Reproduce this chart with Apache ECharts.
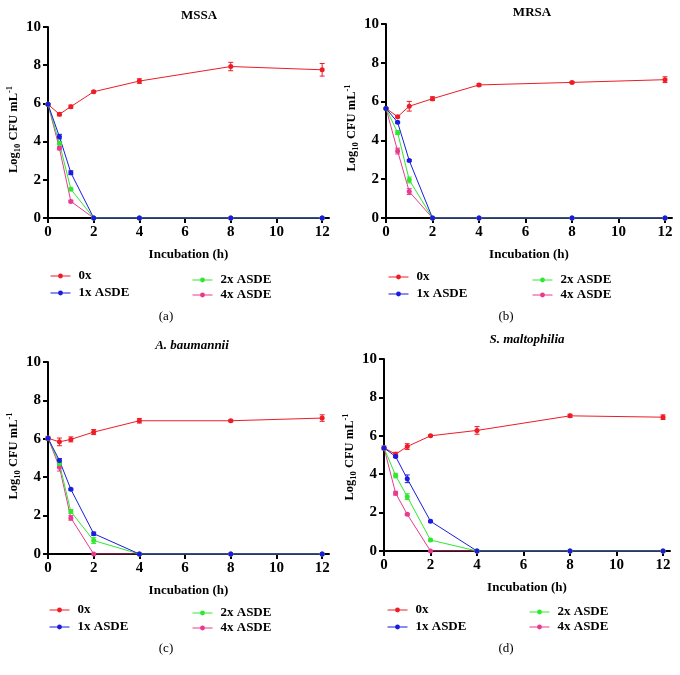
<!DOCTYPE html>
<html>
<head>
<meta charset="utf-8">
<script src="https://cdn.jsdelivr.net/npm/echarts@6/dist/echarts.min.js"></script>
<style>
  html, body { margin: 0; padding: 0; background: #fff; }
  #chart { width: 680px; height: 675px; }
</style>
</head>
<body>
<div id="chart"></div>
<script>
// ---------- data ----------
const hours = [0, 0.5, 1, 2, 4, 8, 12];
const xTicks = [0, 2, 4, 6, 8, 10, 12];
const yTicks = [0, 2, 4, 6, 8, 10];
const seriesNames = ['0x', '1x ASDE', '2x ASDE', '4x ASDE'];
const panelTitles = ['MSSA', 'MRSA', 'A. baumannii', 'S. maltophilia'];
const panelCaptions = ['(a)', '(b)', '(c)', '(d)'];

// MSSA
const mssa0x = [5.95, 5.43, 5.83, 6.61, 7.17, 7.93, 7.76];
const mssa1x = [5.95, 4.26, 2.37, 0, 0, 0, 0];
const mssa2x = [5.95, 3.91, 1.51, 0, 0, 0, 0];
const mssa4x = [5.95, 3.65, 0.87, 0, 0, 0, 0];
const mssa0xErr = [0.05, 0.08, 0.08, 0.05, 0.12, 0.22, 0.33];
const mssa1xErr = [0, 0.12, 0.1, 0, 0, 0, 0];
const mssa2xErr = [0, 0.08, 0.06, 0, 0, 0, 0];
const mssa4xErr = [0, 0.08, 0.06, 0, 0, 0, 0];

// MRSA
const mrsa0x = [5.65, 5.22, 5.76, 6.15, 6.86, 6.99, 7.13];
const mrsa1x = [5.65, 4.93, 2.96, 0, 0, 0, 0];
const mrsa2x = [5.65, 4.40, 1.96, 0, 0, 0, 0];
const mrsa4x = [5.65, 3.45, 1.36, 0, 0, 0, 0];
const mrsa0xErr = [0.05, 0.05, 0.25, 0.1, 0.06, 0.05, 0.15];
const mrsa1xErr = [0, 0.05, 0.05, 0, 0, 0, 0];
const mrsa2xErr = [0, 0.1, 0.15, 0, 0, 0, 0];
const mrsa4xErr = [0, 0.15, 0.15, 0, 0, 0, 0];

// A. baumannii
const abau0x = [6.03, 5.84, 5.97, 6.35, 6.94, 6.94, 7.08];
const abau1x = [6.03, 4.87, 3.37, 1.06, 0, 0, 0];
const abau2x = [6.03, 4.70, 2.21, 0.70, 0, 0, 0];
const abau4x = [6.03, 4.52, 1.88, 0, 0, 0, 0];
const abau0xErr = [0.1, 0.2, 0.13, 0.13, 0.12, 0.05, 0.17];
const abau1xErr = [0, 0.1, 0.05, 0.08, 0, 0, 0];
const abau2xErr = [0, 0.1, 0.1, 0.15, 0, 0, 0];
const abau4xErr = [0, 0.2, 0.12, 0, 0, 0, 0];

// S. maltophilia
const smal0x = [5.37, 5.04, 5.44, 6.00, 6.28, 7.04, 6.97];
const smal1x = [5.37, 4.92, 3.76, 1.55, 0, 0, 0];
const smal2x = [5.37, 3.93, 2.83, 0.57, 0, 0, 0];
const smal4x = [5.37, 3.01, 1.91, 0, 0, 0, 0];
const smal0xErr = [0.1, 0.1, 0.15, 0.04, 0.2, 0.08, 0.12];
const smal1xErr = [0, 0.05, 0.2, 0.05, 0, 0, 0];
const smal2xErr = [0, 0.12, 0.15, 0.05, 0, 0, 0];
const smal4xErr = [0, 0.1, 0.05, 0, 0, 0, 0];

const panelValues = [
  [mssa0x, mssa1x, mssa2x, mssa4x],
  [mrsa0x, mrsa1x, mrsa2x, mrsa4x],
  [abau0x, abau1x, abau2x, abau4x],
  [smal0x, smal1x, smal2x, smal4x]
];
const panelErrors = [
  [mssa0xErr, mssa1xErr, mssa2xErr, mssa4xErr],
  [mrsa0xErr, mrsa1xErr, mrsa2xErr, mrsa4xErr],
  [abau0xErr, abau1xErr, abau2xErr, abau4xErr],
  [smal0xErr, smal1xErr, smal2xErr, smal4xErr]
];

// ---------- layout / style ----------
const colors = ['#ee1c25', '#1b1be0', '#2ee82e', '#e83a8e'];
const FONT = '"Liberation Serif", "DejaVu Serif", serif';
const X_MAX = 12.3; // axis line runs slightly past the last tick
const grids = [
  { left: 48, top: 27, width: 281, height: 191 },
  { left: 386, top: 24, width: 286, height: 194 },
  { left: 48, top: 362, width: 281, height: 192 },
  { left: 384, top: 359, width: 286, height: 192 }
];
const titlePos = [[199, 16], [532, 13], [192, 346], [527, 340]];
const captionPos = [[166, 317], [506, 317], [166, 649], [506, 649]];
const legendLeftPos = [[50, 269], [388, 270], [49, 603], [387, 603]];
const legendRightPos = [[192, 273], [532, 273], [192, 606], [529, 605]];
// padding that shifts each y-axis title along the axis (right pad moves it down)
const yNamePad = [[0, 14, 0, 0], [0, 14, 0, 0], [0, 0, 0, 4], [0, 4, 0, 0]];

const xAxes = [], yAxes = [], series = [], legends = [], graphics = [];

grids.forEach((g, p) => {
  xAxes.push({
    type: 'value', gridIndex: p, min: 0, max: X_MAX, interval: 2,
    name: 'Incubation (h)', nameLocation: 'middle', nameGap: 30,
    nameTextStyle: { fontFamily: FONT, fontWeight: 'bold', fontSize: 13, color: '#000' },
    axisLine: { show: true, lineStyle: { color: '#000', width: 2 } },
    axisTick: { show: true, length: 5, customValues: xTicks, lineStyle: { color: '#000', width: 2 } },
    axisLabel: { fontFamily: FONT, fontWeight: 'bold', fontSize: 15, color: '#000', margin: 7, customValues: xTicks },
    splitLine: { show: false }
  });
  yAxes.push({
    type: 'value', gridIndex: p, min: 0, max: 10, interval: 2,
    name: '{m|Log}{s|10}{m| CFU mL}{p|-1}', nameLocation: 'middle', nameRotate: 90, nameGap: 17,
    nameTextStyle: {
      color: '#000',
      padding: yNamePad[p],
      rich: {
        m: { fontFamily: FONT, fontWeight: 'bold', fontSize: 12.5, color: '#000', lineHeight: 17 },
        s: { fontFamily: FONT, fontWeight: 'bold', fontSize: 8.5, color: '#000', lineHeight: 10, verticalAlign: 'bottom' },
        p: { fontFamily: FONT, fontWeight: 'bold', fontSize: 8.5, color: '#000', lineHeight: 10, verticalAlign: 'top' }
      }
    },
    axisLine: { show: true, lineStyle: { color: '#000', width: 2 } },
    axisTick: { show: true, length: 5, lineStyle: { color: '#000', width: 2 } },
    axisLabel: { fontFamily: FONT, fontWeight: 'bold', fontSize: 15, color: '#000', margin: 7 },
    splitLine: { show: false }
  });

  // draw order: 0x, 4x, 2x, 1x (blue on top)
  const order = [0, 3, 2, 1];
  order.forEach(s => {
    const vals = panelValues[p][s];
    const errs = panelErrors[p][s];
    const errData = [];
    hours.forEach((h, i) => { if (errs[i] > 0) errData.push([h, vals[i], errs[i]]); });
    series.push({
      type: 'custom', xAxisIndex: p, yAxisIndex: p, z: 2,
      name: 'err-' + seriesNames[s], silent: true,
      data: errData,
      encode: { x: 0, y: 1 },
      renderItem: (params, api) => {
        const x = api.value(0), y = api.value(1), e = api.value(2);
        const lo = api.coord([x, y - e]);
        const hi = api.coord([x, y + e]);
        const w = 2.5;
        const st = { stroke: colors[s], lineWidth: 1 };
        return {
          type: 'group',
          children: [
            { type: 'line', shape: { x1: lo[0], y1: lo[1], x2: hi[0], y2: hi[1] }, style: st },
            { type: 'line', shape: { x1: hi[0] - w, y1: hi[1], x2: hi[0] + w, y2: hi[1] }, style: st },
            { type: 'line', shape: { x1: lo[0] - w, y1: lo[1], x2: lo[0] + w, y2: lo[1] }, style: st }
          ]
        };
      }
    });
    series.push({
      type: 'line', name: seriesNames[s], xAxisIndex: p, yAxisIndex: p, z: 3,
      data: hours.map((h, i) => [h, vals[i]]),
      symbol: 'circle', symbolSize: 5, showSymbol: true,
      itemStyle: { color: colors[s] },
      lineStyle: { color: colors[s], width: 1 }
    });
  });

  const legendText = { fontFamily: FONT, fontWeight: 'bold', fontSize: 13, color: '#000', lineHeight: 14, padding: [0, 0, 0, 3] };
  const legendCommon = {
    orient: 'vertical', padding: 0, itemWidth: 20, itemHeight: 6, selectedMode: false,
    lineStyle: { width: 1 }, textStyle: legendText
  };
  legends.push(Object.assign({}, legendCommon, {
    left: legendLeftPos[p][0], top: legendLeftPos[p][1], itemGap: 3,
    data: ['0x', '1x ASDE']
  }));
  legends.push(Object.assign({}, legendCommon, {
    left: legendRightPos[p][0], top: legendRightPos[p][1], itemGap: 1,
    data: ['2x ASDE', '4x ASDE']
  }));

  graphics.push({
    type: 'text', x: titlePos[p][0], y: titlePos[p][1],
    style: {
      text: panelTitles[p], align: 'center', verticalAlign: 'middle',
      fontFamily: FONT, fontWeight: 'bold', fontSize: 13,
      fontStyle: p >= 2 ? 'italic' : 'normal', fill: '#000'
    }
  });
  graphics.push({
    type: 'text', x: captionPos[p][0], y: captionPos[p][1],
    style: {
      text: panelCaptions[p], align: 'center', verticalAlign: 'middle',
      fontFamily: FONT, fontSize: 13, fill: '#000'
    }
  });
});

const chart = echarts.init(document.getElementById('chart'), null, { renderer: 'canvas' });
chart.setOption({
  animation: false,
  backgroundColor: '#fff',
  grid: grids,
  xAxis: xAxes,
  yAxis: yAxes,
  legend: legends,
  graphic: graphics,
  series: series
});
</script>
</body>
</html>
